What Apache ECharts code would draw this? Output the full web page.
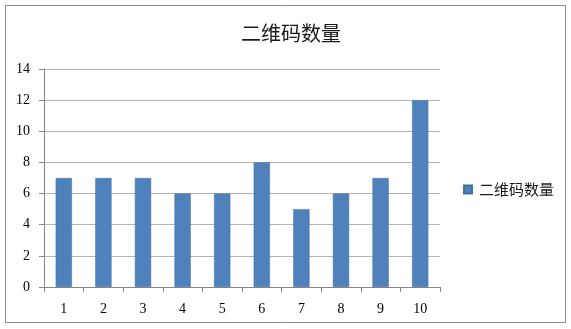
<!DOCTYPE html>
<html><head><meta charset="utf-8">
<script src="https://cdn.jsdelivr.net/npm/echarts@6/dist/echarts.min.js"></script>
<style>html,body{margin:0;padding:0;background:#fff}#c{width:571px;height:329px}</style>
</head><body><div id="c"></div>
<script>
const title = '二维码数量';
const seriesName = '二维码数量';
const categories = ['1','2','3','4','5','6','7','8','9','10'];
const values = [7,7,7,6,6,8,5,6,7,12];
const yTicks = {min:0, max:14, interval:2};

const chart = echarts.init(document.getElementById('c'), null, {renderer:'canvas'});
chart.setOption({
  animation:false,
  backgroundColor:'#fff',
  graphic:[{type:'rect', shape:{x:5.5,y:5.5,width:560,height:317}, style:{fill:'none', stroke:'#8c8c8c', lineWidth:1}, silent:true}],
  title:{text:title, left:286, top:18, textAlign:'center',
    textStyle:{fontFamily:'Noto Sans CJK SC', fontWeight:'normal', fontSize:20, color:'#1a1a1a'}},
  legend:{data:[seriesName], left:458, top:177, orient:'vertical', itemWidth:8, itemHeight:8, itemGap:4,
    icon:'rect', textStyle:{fontFamily:'Noto Sans CJK SC', fontSize:15, color:'#1a1a1a', padding:[0,0,0,2]}},
  grid:{left:44, right:131, top:69, bottom:42, containLabel:false},
  xAxis:{type:'category', data:categories, boundaryGap:true,
    axisLine:{lineStyle:{color:'#868686'}},
    axisTick:{show:true, alignWithLabel:false, length:5, lineStyle:{color:'#868686'}},
    axisLabel:{margin:15, fontFamily:'Liberation Serif', fontSize:14, color:'#000'}},
  yAxis:{type:'value', min:yTicks.min, max:yTicks.max, interval:yTicks.interval,
    axisLine:{show:true, lineStyle:{color:'#868686'}},
    axisTick:{show:true, length:5, lineStyle:{color:'#868686'}},
    axisLabel:{margin:14, fontFamily:'Liberation Serif', fontSize:14, color:'#000'},
    splitLine:{lineStyle:{color:'#b3b3b3'}}},
  series:[{name:seriesName, type:'bar', data:values, barWidth:'41%',
    itemStyle:{color:'#4F81BD', borderColor:'#41719c', borderWidth:0.5}}]
});
</script></body></html>
